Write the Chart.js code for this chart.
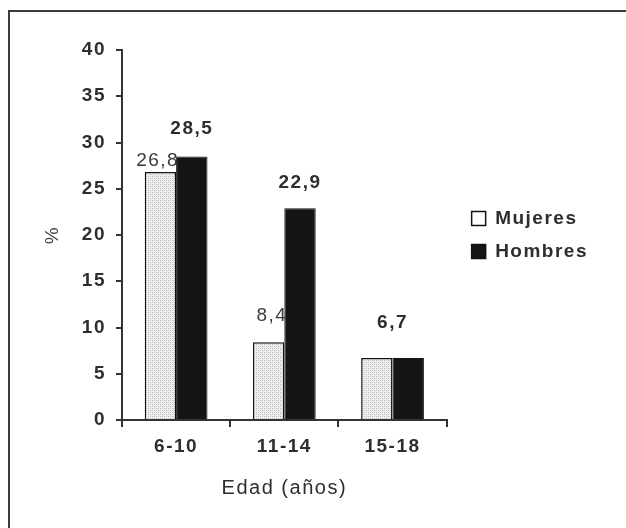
<!DOCTYPE html>
<html lang="es">
<head>
    <meta charset="UTF-8">
    <title>Edad por sexo</title>
    <script src="https://cdn.jsdelivr.net/npm/chart.js"></script>
    <style>
        html, body { margin: 0; padding: 0; background: #fff; }
        .wrap { position: relative; width: 626px; height: 528px; overflow: hidden; }
        .frame { position: absolute; left: 8px; top: 10px; width: 700px; height: 600px;
                 border-top: 2px solid #3c3c3c; border-left: 2px solid #3c3c3c; }
        #chart { position: absolute; left: 0; top: 0; }
    </style>
</head>
<body>
    <div class="wrap">
        <div class="frame"></div>
        <canvas id="chart" width="626" height="528"></canvas>
    </div>
    <script>
        const edades = ['6-10', '11-14', '15-18'];
        const mujeres = [26.8, 8.4, 6.7];
        const hombres = [28.5, 22.9, 6.7];
        const yMin = 0, yMax = 40, yStep = 5;

        const ink = '#2e2e2e';
        Chart.defaults.font.family = "'Liberation Sans', Arial, sans-serif";
        Chart.defaults.color = ink;

        // dotted light grey fill, like the scanned original
        function dotPattern() {
            const c = document.createElement('canvas');
            c.width = 4; c.height = 4;
            const g = c.getContext('2d');
            g.fillStyle = '#ededed';
            g.fillRect(0, 0, 4, 4);
            g.fillStyle = '#b8b8b8';
            g.fillRect(0, 0, 1, 1);
            g.fillRect(2, 2, 1, 1);
            g.fillStyle = '#d4d4d4';
            g.fillRect(2, 0, 1, 1);
            g.fillRect(0, 2, 1, 1);
            return g.createPattern(c, 'repeat');
        }

        function fmt(v) {
            return v.toFixed(1).replace('.', ',');
        }

        // wide tracking of the old typeface
        const tracking = {
            id: 'tracking',
            beforeLayout(chart) { chart.ctx.letterSpacing = '1.5px'; },
            beforeDraw(chart) { chart.ctx.letterSpacing = '1.5px'; }
        };

        const valueLabels = {
            id: 'valueLabels',
            // mujeres labels go first so the hombres bars hide their tail
            beforeDatasetsDraw(chart, args, opts) {
                const ctx = chart.ctx;
                const m0 = chart.getDatasetMeta(0);
                ctx.save();
                ctx.letterSpacing = '1.5px';
                ctx.font = "19px 'Liberation Sans', Arial, sans-serif";
                ctx.fillStyle = '#3a3a3a';
                ctx.textAlign = 'right';
                ctx.textBaseline = 'alphabetic';
                m0.data.forEach((bar, k) => {
                    if (mujeres[k] === hombres[k]) return;
                    ctx.fillText(fmt(mujeres[k]), bar.x + bar.width / 2 + 3, bar.y - opts.liftM[k]);
                });
                ctx.restore();
            },
            afterDatasetsDraw(chart, args, opts) {
                const ctx = chart.ctx;
                const m0 = chart.getDatasetMeta(0);
                const m1 = chart.getDatasetMeta(1);
                ctx.save();
                ctx.letterSpacing = '1.5px';
                ctx.font = "bold 19px 'Liberation Sans', Arial, sans-serif";
                ctx.fillStyle = ink;
                ctx.textAlign = 'center';
                ctx.textBaseline = 'alphabetic';
                m1.data.forEach((bar, k) => {
                    let x = bar.x;
                    if (mujeres[k] === hombres[k]) x = (bar.x + m0.data[k].x) / 2;
                    ctx.fillText(fmt(hombres[k]), x, bar.y - opts.liftH[k]);
                });
                ctx.restore();
            }
        };

        const ctx = document.getElementById('chart').getContext('2d');
        const chart = new Chart(ctx, {
            type: 'bar',
            data: {
                labels: edades,
                datasets: [{
                    label: 'Mujeres',
                    data: mujeres,
                    backgroundColor: dotPattern(),
                    borderColor: '#111',
                    borderWidth: 1.5,
                    categoryPercentage: 0.58,
                    barPercentage: 1
                }, {
                    label: 'Hombres',
                    data: hombres,
                    backgroundColor: '#151515',
                    borderColor: '#111',
                    borderWidth: 1,
                    categoryPercentage: 0.58,
                    barPercentage: 1
                }]
            },
            options: {
                responsive: false,
                animation: false,
                devicePixelRatio: 1,
                layout: {
                    padding: { left: 30, top: 50, right: 28, bottom: 20 }
                },
                plugins: {
                    tooltip: { enabled: false },
                    legend: {
                        position: 'right',
                        fullSize: false,
                        maxWidth: 220,
                        labels: {
                            font: { size: 19, weight: 'bold' },
                            color: ink,
                            boxWidth: 14,
                            boxHeight: 14,
                            padding: 14,
                            generateLabels(chart) {
                                return Chart.defaults.plugins.legend.labels.generateLabels(chart).map((it, i) => {
                                    it.fillStyle = i === 0 ? '#fff' : '#151515';
                                    it.strokeStyle = '#111';
                                    it.lineWidth = 1.5;
                                    return it;
                                });
                            }
                        }
                    },
                    valueLabels: {
                        liftM: [6, 21, 0],
                        liftH: [22, 20, 30]
                    }
                },
                scales: {
                    x: {
                        grid: { display: true, drawOnChartArea: false, offset: true, tickLength: 7, color: '#333', lineWidth: 2 },
                        border: { color: '#333', width: 2 },
                        ticks: { font: { size: 19, weight: 'bold' }, padding: 8, color: ink },
                        title: {
                            display: true,
                            text: 'Edad (años)',
                            font: { size: 20 },
                            color: ink,
                            padding: { top: 0, bottom: 8 }
                        },
                        afterFit(s) { s.height = 88; }
                    },
                    y: {
                        min: yMin,
                        max: yMax,
                        grid: { display: true, drawOnChartArea: false, tickLength: 6, color: '#333', lineWidth: 2 },
                        border: { color: '#333', width: 2 },
                        ticks: { stepSize: yStep, font: { size: 19, weight: 'bold' }, padding: 10, color: ink },
                        title: {
                            display: true,
                            text: '%',
                            font: { size: 19 },
                            color: '#444',
                            padding: { top: 11, bottom: 0 }
                        },
                        afterFit(s) { s.width = 92; }
                    },
                    gap: {
                        type: 'linear',
                        position: 'right',
                        grid: { display: false },
                        border: { display: false },
                        ticks: { display: false },
                        afterFit(s) { s.width = 11; }
                    }
                }
            },
            plugins: [tracking, valueLabels]
        });
    </script>
</body>
</html>
